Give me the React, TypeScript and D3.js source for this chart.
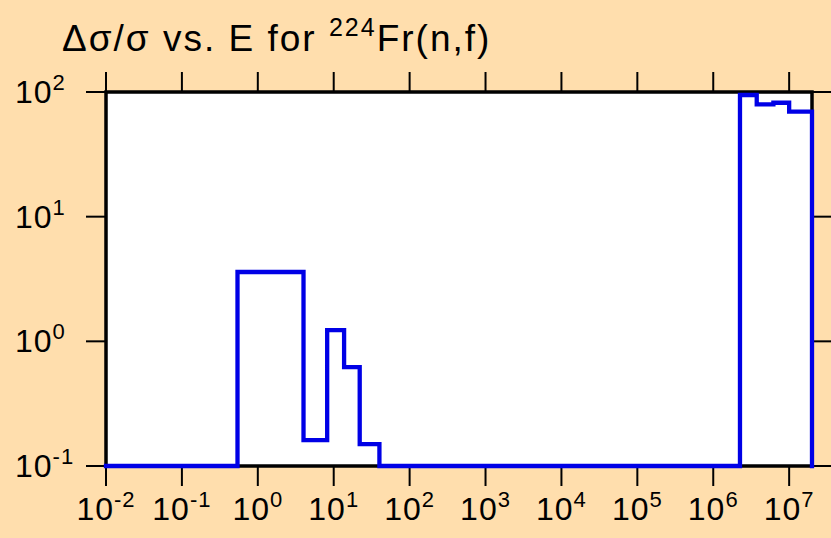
import React from "react";
import * as d3 from "d3";

// Bin edges (eV) and relative uncertainty values for each bin
const binEdges = [0.01, 0.54, 4.0, 8.2, 13.7, 22, 40, 2.25e6, 3.74e6, 6.2e6, 1.0e7, 2e7];
const binValues = [0.1, 3.6, 0.161, 1.23, 0.62, 0.15, 0.1, 94.6, 79.6, 82, 69.5];

const xTickExps = [-2, -1, 0, 1, 2, 3, 4, 5, 6, 7];
const yTickExps = [-1, 0, 1, 2];

const W = 831;
const H = 538;
const left = 106;
const right = 812;
const top = 92;
const bottom = 466;

const FONT = "'Liberation Sans', Arial, Helvetica, sans-serif";

export default function App() {
  const x = d3.scaleLog().domain([1e-2, 2e7]).range([left, right]);
  const y = d3.scaleLog().domain([0.1, 100]).range([bottom, top]);

  const pts: [number, number][] = [];
  binValues.forEach((v, i) => {
    pts.push([binEdges[i], v]);
  });
  pts.push([binEdges[binEdges.length - 1], binValues[binValues.length - 1]]);
  pts.push([binEdges[binEdges.length - 1], 0.1]);

  const line = d3
    .line<[number, number]>()
    .x((d) => x(d[0]))
    .y((d) => y(d[1]))
    .curve(d3.curveStepAfter);

  const tickLen = 20;

  return (
    <svg
      width={W}
      height={H}
      style={{ position: "absolute", left: 0, top: 0, display: "block" }}
      fontFamily={FONT}
    >
      <rect x={0} y={0} width={W} height={H} fill="#FFDEAD" />
      <rect x={left} y={top} width={right - left} height={bottom - top} fill="#FFFFFF" />

      {/* ticks */}
      {xTickExps.map((e) => {
        const px = x(Math.pow(10, e));
        return (
          <g key={"xt" + e}>
            <line x1={px} x2={px} y1={bottom} y2={bottom + tickLen} stroke="#000" strokeWidth={2} />
            <line x1={px} x2={px} y1={top} y2={top - tickLen} stroke="#000" strokeWidth={2} />
            <text x={px} y={520} textAnchor="middle" fontSize={32} fill="#000" letterSpacing={1}>
              10
              <tspan dy={-13} fontSize={22}>{String(e)}</tspan>
            </text>
          </g>
        );
      })}
      {yTickExps.map((e) => {
        const py = y(Math.pow(10, e));
        return (
          <g key={"yt" + e}>
            <line x1={left - tickLen} x2={left} y1={py} y2={py} stroke="#000" strokeWidth={2} />
            <line x1={right} x2={right + tickLen} y1={py} y2={py} stroke="#000" strokeWidth={2} />
            <text x={15} y={py + 11} textAnchor="start" fontSize={32} fill="#000" letterSpacing={1}>
              10
              <tspan dy={-13} fontSize={22}>{String(e)}</tspan>
            </text>
          </g>
        );
      })}

      {/* frame */}
      <rect
        x={left}
        y={top}
        width={right - left}
        height={bottom - top}
        fill="none"
        stroke="#000"
        strokeWidth={3.5}
      />

      {/* data */}
      <path
        d={line(pts) || ""}
        fill="none"
        stroke="#0000E6"
        strokeWidth={4.3}
        strokeLinejoin="miter"
        strokeLinecap="square"
      />

      {/* title */}
      <text x={62} y={51} fontSize={37} fill="#000" letterSpacing={2}>
        Δσ/σ vs. E for{" "}
        <tspan dy={-15} fontSize={25}>224</tspan>
        <tspan dy={15}>Fr(n,f)</tspan>
      </text>
    </svg>
  );
}
